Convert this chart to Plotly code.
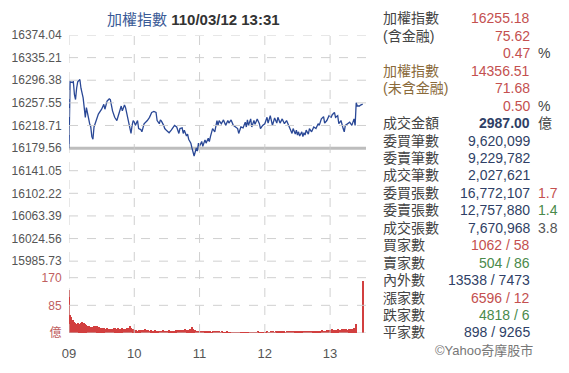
import plotly.graph_objects as go

# ---------------- data ----------------
price_minutes = [0, 1, 3, 4, 5, 6, 7, 8, 10, 11, 13, 14, 15, 16, 17, 19, 20, 21, 22, 23, 25, 27, 30, 32, 33, 35, 37, 38,
                 40, 42, 44, 46, 48, 49, 51, 52, 54, 55, 57, 58, 59, 60, 61, 63, 64, 66, 67, 69, 72, 74, 76, 78, 80,
                 81, 83, 84, 85, 87, 88, 90, 92, 94, 96, 97, 99, 100, 101, 102, 104, 105, 106, 108, 109, 110, 112,
                 113, 114, 115, 117, 118, 119, 120, 122, 123, 125, 126, 128, 129, 130, 131, 132, 134, 136, 137, 138,
                 140, 142, 144, 146, 147, 149, 151, 153, 155, 156, 157, 158, 160, 162, 163, 164, 165, 167, 168, 170,
                 171, 173, 175, 176, 178, 180, 182, 183, 185, 187, 189, 191, 192, 194, 196, 198, 200, 202, 203, 205,
                 206, 208, 209, 210, 211, 212, 214, 215, 216, 217, 218, 220, 221, 223, 225, 227, 229, 230, 232, 234,
                 235, 237, 239, 241, 242, 244, 245, 247, 248, 250, 252, 253, 254, 256, 258, 260, 261, 262, 263, 264,
                 265, 267, 268, 270]
price_values = [16179.6, 16293.7, 16292.6, 16293.7, 16271.5, 16263.2, 16282.6, 16293.7, 16297.6, 16282.6, 16266.0,
                16243.8, 16232.7, 16249.4, 16238.3, 16221.7, 16216.1, 16199.5, 16195.1, 16216.1, 16227.2, 16238.3,
                16246.6, 16254.9, 16246.6, 16260.5, 16264.3, 16263.2, 16243.8, 16232.7, 16227.2, 16241.1, 16252.1,
                16243.8, 16253.8, 16249.4, 16232.7, 16218.9, 16205.0, 16218.9, 16227.2, 16224.4, 16218.9, 16227.2,
                16213.4, 16211.7, 16207.8, 16221.7, 16227.2, 16232.7, 16241.1, 16242.7, 16241.1, 16227.2, 16221.7,
                16228.3, 16226.1, 16218.9, 16213.4, 16209.5, 16206.2, 16210.6, 16216.1, 16218.9, 16216.1, 16207.8,
                16205.0, 16213.4, 16214.5, 16205.0, 16210.6, 16200.6, 16203.9, 16195.1, 16188.4, 16180.1, 16171.8,
                16166.3, 16180.1, 16174.6, 16188.4, 16182.9, 16191.2, 16182.9, 16194.0, 16188.4, 16196.7, 16191.2,
                16199.5, 16207.8, 16213.4, 16207.8, 16227.2, 16218.9, 16227.2, 16221.7, 16228.3, 16218.9, 16227.2,
                16222.8, 16228.3, 16218.9, 16216.1, 16213.4, 16205.0, 16213.4, 16216.1, 16214.5, 16224.4, 16216.1,
                16228.3, 16218.9, 16230.0, 16216.1, 16227.2, 16220.6, 16230.0, 16221.7, 16213.4, 16218.9, 16221.7,
                16232.7, 16222.8, 16235.5, 16218.9, 16231.6, 16222.8, 16232.7, 16222.8, 16230.0, 16221.7, 16227.2,
                16218.9, 16216.1, 16205.0, 16213.4, 16203.9, 16210.6, 16202.3, 16207.8, 16200.6, 16207.8, 16199.5,
                16206.2, 16202.3, 16210.6, 16203.9, 16213.4, 16207.8, 16216.1, 16213.4, 16221.7, 16218.9, 16230.0,
                16233.9, 16222.8, 16227.2, 16235.5, 16232.7, 16237.2, 16241.1, 16232.7, 16235.5, 16221.7, 16227.2,
                16213.4, 16207.8, 16218.9, 16221.7, 16224.4, 16218.9, 16227.2, 16230.0, 16218.9, 16257.7, 16252.1,
                16252.1, 16253.8, 16255.18]

volume = [134, 57, 50, 42, 40, 36, 32, 30, 33, 30,
          29, 31, 34, 32, 33, 30, 27, 24, 22, 20,
          18, 17, 19, 22, 24, 21, 22, 20, 18, 16,
          15, 17, 15, 14, 13, 15, 12, 14, 13, 12,
          13, 15, 17, 14, 13, 16, 14, 12, 13, 15,
          12, 14, 13, 15, 14, 16, 22, 15, 13, 12,
          10, 9, 9, 8, 9, 10, 9, 8, 10, 11,
          12, 11, 10, 9, 8, 9, 8, 7, 8, 9,
          8, 7, 8, 7, 7, 8, 9, 8, 7, 8,
          7, 8, 9, 8, 7, 8, 7, 8, 9, 10,
          9, 10, 11, 10, 9, 11, 10, 12, 11, 10,
          11, 12, 13, 20, 14, 10, 9, 8, 7, 8,
          7, 6, 7, 6, 5, 6, 7, 6, 5, 6,
          6, 5, 6, 7, 6, 5, 6, 5, 6, 5,
          5, 6, 5, 4, 5, 6, 5, 4, 5, 5,
          4, 5, 4, 4, 5, 4, 5, 4, 4, 5,
          4, 5, 4, 5, 4, 4, 5, 4, 5, 4,
          5, 4, 4, 5, 6, 5, 4, 5, 4, 5,
          4, 5, 6, 5, 4, 5, 6, 5, 6, 5,
          6, 5, 6, 5, 6, 7, 6, 5, 6, 5,
          6, 5, 6, 7, 6, 5, 6, 7, 6, 5,
          6, 7, 6, 5, 6, 7, 6, 7, 6, 5,
          6, 7, 6, 7, 6, 7, 8, 7, 6, 7,
          8, 7, 8, 9, 8, 7, 8, 9, 8, 9,
          10, 9, 12, 11, 10, 11, 10, 12, 11, 10,
          11, 12, 11, 12, 13, 12, 11, 13, 12, 13,
          14, 13, 15, 14, 29, 0, 0, 0, 0, 0,
          160]
volume_minutes = list(range(len(volume)))

prev_close = 16179.56
price_ticks = [15985.73, 16024.56, 16063.39, 16102.22, 16141.05, 16179.56, 16218.71, 16257.55, 16296.38,
               16335.21, 16374.04]
price_tick_labels = ["15985.73", "16024.56", "16063.39", "16102.22", "16141.05", "16179.56", "16218.71",
                     "16257.55", "16296.38", "16335.21", "16374.04"]
vol_ticks = [0, 85, 170]
vol_tick_labels = ["億", "85", "170"]
hour_ticks = [0, 60, 120, 180, 240]
hour_labels = ["09", "10", "11", "12", "13"]
x_end = 273

title_name = "加權指數"
title_time = "110/03/12 13:31"

panel_labels = ["加權指數", "(含金融)", "", "加權指數", "(未含金融)", "", "成交金額", "委買筆數", "委賣筆數",
                "成交筆數", "委買張數", "委賣張數", "成交張數", "買家數", "賣家數", "內外數", "漲家數", "跌家數",
                "平家數"]
panel_values = ["16255.18", "75.62", "0.47", "14356.51", "71.68", "0.50", "<b>2987.00</b>", "9,620,099",
                "9,229,782", "2,027,621", "16,772,107", "12,757,880", "7,670,968", "1062 / 58", "504 / 86",
                "13538 / 7473", "6596 / 12", "4818 / 6", "898 / 9265"]
panel_units = ["", "", "%", "", "", "%", "億", "", "", "", "1.7", "1.4", "3.8", "", "", "", "", "", ""]

# ---------------- styles ----------------
RED = "#c4504f"
NAVY = "#2f3f66"
GREEN = "#4a8a4a"
DARK = "#444444"
BROWN = "#8a6a3a"
label_colors = [DARK, DARK, DARK, BROWN, BROWN, DARK] + [DARK] * 13
value_colors = [RED] * 6 + [NAVY] * 7 + [RED, GREEN, NAVY, RED, GREEN, NAVY]
unit_colors = [DARK] * 10 + [RED, GREEN, "#555555"] + [DARK] * 6

FONT = "Liberation Sans, Noto Sans CJK TC, sans-serif"
GRID = "#cccccc"
W, H = 569, 373
L, R, T, B = 63, 366, 35, 342

PRICE_RANGE = [15985.73, 16374.04]
VOL_RANGE = [0, 170]


def px(x):
    return (x - L) / (R - L)


def py(y):
    return (B - y) / (B - T)


PRICE_DOM = [py(268), 1.0]
VOL_DOM = [0.0, py(285)]


def to_frac(v, rng, dom):
    return dom[0] + (v - rng[0]) / (rng[1] - rng[0]) * (dom[1] - dom[0])


fig = go.Figure()

fig.add_trace(go.Scatter(x=[0, x_end], y=[prev_close, prev_close], yaxis="y", mode="lines",
                         line=dict(color="#bdbdbd", width=3), hoverinfo="skip"))
fig.add_trace(go.Scatter(x=price_minutes, y=price_values, yaxis="y", mode="lines",
                         line=dict(color="#2a4896", width=1.3), hoverinfo="skip"))
fig.add_trace(go.Bar(x=volume_minutes, y=volume, yaxis="y2", marker=dict(color="#d23f3f", line=dict(width=0)),
                     width=1.0, hoverinfo="skip"))

# dashed grid on a hidden full-height helper axis (this subplot is drawn last)
gx, gy = [], []
for tv in price_ticks:
    if tv == prev_close:
        continue
    f = to_frac(tv, PRICE_RANGE, PRICE_DOM)
    gx += [0, x_end, None]
    gy += [f, f, None]
for tv in vol_ticks:
    f = to_frac(tv, VOL_RANGE, VOL_DOM)
    gx += [0, x_end, None]
    gy += [f, f, None]
for hv in hour_ticks:
    gx += [hv, hv, None]
    gy += [0, 1, None]
fig.add_trace(go.Scatter(x=gx, y=gy, yaxis="y3", mode="lines", line=dict(color=GRID, width=1, dash="dash"),
                         opacity=0.9, hoverinfo="skip"))

annotations = [dict(xref="paper", yref="paper", x=px(190), y=py(19), xanchor="center", yanchor="middle",
                    showarrow=False,
                    text=f"<span style='color:#3a5a96'>{title_name}</span> <b>{title_time}</b>",
                    font=dict(family=FONT, size=15, color="#333333"))]
row_y0, row_dy = 18, 17.97
for i, lab in enumerate(panel_labels):
    yy = py(row_y0 + i * row_dy)
    if lab:
        annotations.append(dict(xref="paper", yref="paper", x=px(381), y=yy, xanchor="left", yanchor="middle",
                                showarrow=False, text=lab, font=dict(family=FONT, size=14, color=label_colors[i])))
    annotations.append(dict(xref="paper", yref="paper", x=px(535), y=yy, xanchor="right", yanchor="middle",
                            showarrow=False, text=panel_values[i],
                            font=dict(family=FONT, size=14, color=value_colors[i])))
    if panel_units[i]:
        annotations.append(dict(xref="paper", yref="paper", x=px(539), y=yy, xanchor="left", yanchor="middle",
                                showarrow=False, text=panel_units[i],
                                font=dict(family=FONT, size=14, color=unit_colors[i])))
annotations.append(dict(xref="paper", yref="paper", x=px(538), y=py(360), xanchor="right", yanchor="middle",
                        showarrow=False, text="©Yahoo奇摩股市", font=dict(family=FONT, size=13, color="#777777")))

fig.update_layout(
    width=W, height=H, margin=dict(l=L, r=W - R, t=T, b=H - B),
    paper_bgcolor="white", plot_bgcolor="rgba(0,0,0,0)", showlegend=False, bargap=0,
    font=dict(family=FONT, color="#555555"),
    xaxis=dict(range=[0, x_end], tickvals=hour_ticks, ticktext=hour_labels, showgrid=False, zeroline=False,
               showline=False, ticks="outside", ticklen=8, tickcolor="rgba(0,0,0,0)", anchor="y2",
               tickfont=dict(size=13, color="#555555"), fixedrange=True),
    yaxis=dict(domain=PRICE_DOM, range=PRICE_RANGE, tickvals=price_ticks, ticktext=price_tick_labels,
               showgrid=False, zeroline=False,
               ticks="outside", ticklen=4, tickcolor="rgba(0,0,0,0)",
               tickfont=dict(size=12, color="#555555"), fixedrange=True),
    yaxis2=dict(domain=VOL_DOM, range=VOL_RANGE, tickvals=vol_ticks, ticktext=vol_tick_labels,
                showgrid=False, zeroline=False,
                ticks="outside", ticklen=4, tickcolor="rgba(0,0,0,0)",
                tickfont=dict(size=12, color="#c06060"), fixedrange=True),
    yaxis3=dict(domain=[0, 1], range=[0, 1], visible=False, showgrid=False, zeroline=False, fixedrange=True),
    annotations=annotations,
)

fig.write_html("out.html", config={"displayModeBar": False},
               post_script="document.body.style.margin='0';document.body.style.padding='0';")
